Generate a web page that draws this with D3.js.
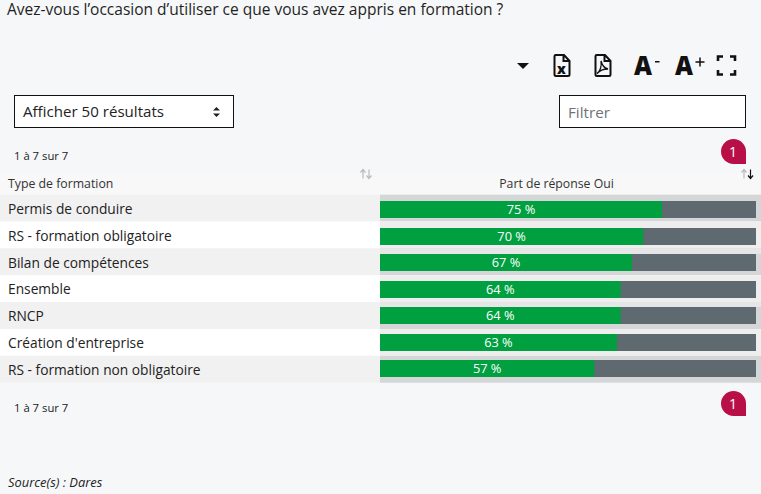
<!DOCTYPE html>
<html lang="fr"><head><meta charset="utf-8">
<script src="https://cdn.jsdelivr.net/npm/d3@7/dist/d3.min.js"></script>
<style>html,body{margin:0;padding:0;background:#f6f7f9;overflow:hidden}svg{display:block}text{font-family:"Open Sans","Noto Sans",sans-serif}</style>
</head><body><script>
const categories=["Permis de conduire","RS - formation obligatoire","Bilan de compétences","Ensemble","RNCP","Création d'entreprise","RS - formation non obligatoire"];
const values=[75,70,67,64,64,63,57];
const title="Avez-vous l’occasion d’utiliser ce que vous avez appris en formation ?";
const W=761,H=494;
const svg=d3.select("body").append("svg").attr("width",W).attr("height",H);
const y=d3.scaleBand().domain(categories).range([194.7,382.7]).padding(0);
const barY=d3.scaleBand().domain(categories).range([201,386.5]).padding(0);
const x=d3.scaleLinear().domain([0,100]).range([380,756]);
const T=(s,xx,yy,size,fill,anchor)=>svg.append("text").attr("x",xx).attr("y",yy).attr("font-size",size).attr("fill",fill||"#222").attr("text-anchor",anchor||"start").text(s);
T(title,7,15,15.52,"#1f1f1f");
// toolbar
svg.append("path").attr("d","M517 63h12l-6 6z").attr("fill","#111");
const file=(ox)=>svg.append("path").attr("d",`M${ox+1.500} 55h9.500l5.500 6v13.500a1.500 1.500 0 0 1-1.500 1.500h-12a1.500 1.500 0 0 1-1.500-1.500v-18a1.500 1.500 0 0 1 1.500-1.500z M${ox+10.500} 55.500v5.500h5.500`).attr("fill","none").attr("stroke","#111").attr("stroke-width",2);
file(553);file(594);
T("x",561.500,73.500,14,"#111","middle").attr("font-weight",800);
svg.append("path").attr("d","M597 73.500c3-1.500 5-8 4-12.500c1 4 3 7 7 8c-4 0-8 1-11 4.500z").attr("fill","none").attr("stroke","#111").attr("stroke-width",1.4);
T("A",634,75,26,"#111").attr("font-weight",900).attr("font-family","DejaVu Serif").attr("textLength",18).attr("lengthAdjust","spacingAndGlyphs");
svg.append("rect").attr("x",655).attr("y",61).attr("width",4.500).attr("height",1.500).attr("fill","#111");
T("A",675,75,26,"#111").attr("font-weight",900).attr("font-family","DejaVu Serif").attr("textLength",18).attr("lengthAdjust","spacingAndGlyphs");
svg.append("path").attr("d","M695.500 62h9 M700 57.500v9").attr("stroke","#111").attr("stroke-width",1.500);
svg.append("path").attr("d","M718 61v-4.500h5 M730 56.500h5v4.500 M735 70v4.500h-5 M723 74.500h-5v-4.500").attr("fill","none").attr("stroke","#111").attr("stroke-width",2.600);
// controls
svg.append("rect").attr("x",14.500).attr("y",95.500).attr("width",219).attr("height",32).attr("fill","#fff").attr("stroke","#111");
T("Afficher 50 résultats",23,117,15.1,"#222");
svg.append("path").attr("d","M213 110.500l3.500-3.500 3.500 3.500z M213 113.500l3.500 3.500 3.500-3.500z").attr("fill","#222");
svg.append("rect").attr("x",559.500).attr("y",95.500).attr("width",186).attr("height",32).attr("fill","#fff").attr("stroke","#111");
T("Filtrer",568,118,15.200,"#6d7379");
// info + pagination
T("1 à 7 sur 7",14,160,11.300,"#222");T("1 à 7 sur 7",14,412,11.300,"#222");
const badge=(cy)=>{svg.append("path").attr("d",`M746 ${cy+12.500}h-12.500a12.500 12.500 0 1 1 12.500-12.500z`).attr("fill","#b90f47");
T("1",733,cy+5,14,"#fff","middle");};
badge(151.500);badge(403.500);
// header
svg.append("rect").attr("x",0).attr("y",173).attr("width",W).attr("height",22).attr("fill","#f8f8f9");
T("Type de formation",8,188,12.300,"#333");
T("Part de réponse Oui",556.500,188,12.250,"#333","middle");
const arrow=(ax,up,col)=>{const t=169.500,b=178.500;
 svg.append("path").attr("d",up?`M${ax} ${b}V${t}M${ax-2.500} ${t+3}L${ax} ${t}L${ax+2.500} ${t+3}`:`M${ax} ${t}V${b}M${ax-2.500} ${b-3}L${ax} ${b}L${ax+2.500} ${b-3}`).attr("fill","none").attr("stroke",col).attr("stroke-width",1.200);};
arrow(363,true,"#b8bcc0");arrow(369,false,"#b8bcc0");
arrow(744,true,"#b8bcc0");arrow(750.500,false,"#111");
// rows
const barTop=d=>Math.ceil(barY(d));
const rows=svg.append("g").selectAll("g").data(categories).join("g");
rows.append("rect").attr("x",0).attr("width",W).attr("y",d=>y(d)).attr("height",y.bandwidth()).attr("fill",(d,i)=>i%2?"#ffffff":"#f1f1f1");
rows.append("rect").attr("x",x(0)).attr("width",W-x(0)).attr("y",d=>y(d)).attr("height",y.bandwidth()).attr("fill",(d,i)=>i%2?"#eeeeef":"#d5d6d8");
rows.filter((d,i)=>i===2||i===4).append("rect").attr("x",x(0)).attr("width",W-x(0)).attr("y",d=>y(d)).attr("height",d=>barTop(d)-y(d)).attr("fill","#e6e6e8");
rows.append("rect").attr("x",x(0)).attr("width",x(100)-x(0)).attr("y",barTop).attr("height",17).attr("fill","#5f6a70");
rows.append("rect").attr("x",x(0)).attr("width",(d,i)=>x(values[i])-x(0)).attr("y",barTop).attr("height",17).attr("fill","#00a040");
rows.append("text").attr("x",(d,i)=>x(values[i]/2)).attr("y",d=>barY(d)+13).attr("text-anchor","middle").attr("font-size",12.800).attr("fill","#fff").text((d,i)=>values[i]+" %");
rows.append("text").attr("x",8).attr("y",d=>y(d)+19.2).attr("font-size",13.750).attr("fill","#222").text(d=>d);
T("Source(s) : Dares",8,487,12.900,"#222").attr("font-style","italic");
</script></body></html>
